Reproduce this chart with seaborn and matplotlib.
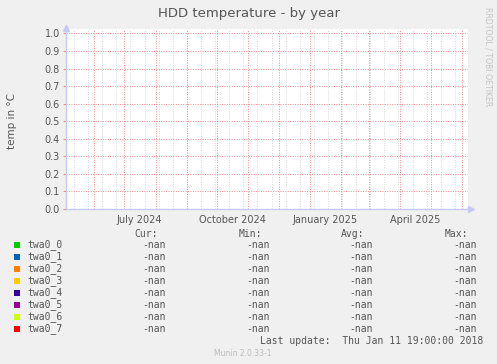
import numpy as np
import pandas as pd
import matplotlib
matplotlib.use('Agg')
import matplotlib.pyplot as plt
import matplotlib.dates as mdates
from matplotlib.patches import Rectangle
import seaborn as sns

# ---- data (every value is -nan) ----
drives = ['twa0_0', 'twa0_1', 'twa0_2', 'twa0_3', 'twa0_4', 'twa0_5', 'twa0_6', 'twa0_7']
colors = ['#00cc00', '#0066b3', '#ff8000', '#ffcc00', '#330099', '#990099', '#ccff00', '#ff0000']
cur_vals = ['-nan'] * 8
min_vals = ['-nan'] * 8
avg_vals = ['-nan'] * 8
max_vals = ['-nan'] * 8
time_range = ['2024-05-04', '2025-06-06 12:00']
temps = [np.nan, np.nan]

label_dates = ['2024-07-16', '2024-10-16', '2025-01-16', '2025-04-16']
label_texts = ['July 2024', 'October 2024', 'January 2025', 'April 2025']
y_ticks = [0.0, 0.1, 0.2, 0.3, 0.4, 0.5, 0.6, 0.7, 0.8, 0.9, 1.0]
last_update = 'Last update:  Thu Jan 11 19:00:00 2018'

# long table for seaborn
rows = []
for d in drives:
    for t, v in zip(time_range, temps):
        rows.append({'date': pd.Timestamp(t), 'temp': v, 'drive': d})
df = pd.DataFrame(rows)

sns.set_style('white')
plt.rcParams['font.family'] = ['DejaVu Sans']

W, H = 497, 364
BG = '#f0f0f0'
TXT = '#555555'
RED = '#f08c8c'
GRAY = '#d6d6d6'
AXC = '#c8c8f4'

def fx(x):
    return x / W

def fy(y):
    return 1 - y / H

fig = plt.figure(figsize=(W / 100, H / 100), dpi=100, facecolor=BG)
ax = fig.add_axes([fx(66), fy(209), 401.5 / W, 180 / H])
ax.set_facecolor('white')

sns.lineplot(data=df, x='date', y='temp', hue='drive', palette=colors,
             legend=False, ax=ax)

t0, t1 = pd.Timestamp(time_range[0]), pd.Timestamp(time_range[1])
ax.xaxis_date()
ax.set_xlim(t0, t1)
ax.set_ylim(0, 1.025)

# minor grey grid every two weeks
for d in pd.date_range('2024-05-12', t1, freq='14D'):
    ax.axvline(d, color=GRAY, lw=0.7, ls=(0, (1, 1.5)), zorder=0.5)

# red month lines with small ticks below the axis
months = pd.date_range('2024-06-01', t1, freq='MS')
ax.set_xticks(months, minor=True)
ax.grid(True, which='minor', axis='x', color=RED, lw=0.7, ls=(0, (1, 1.5)))
ax.tick_params(axis='x', which='minor', length=2.5, color=RED, width=0.8)

ax.set_xticks(pd.to_datetime(label_dates))
ax.set_xticklabels(label_texts)
ax.tick_params(axis='x', which='major', length=0, pad=4, labelsize=7, labelcolor=TXT)
ax.grid(False, which='major', axis='x')

ax.set_yticks(y_ticks)
ax.set_yticklabels([f'{v:.1f}' for v in y_ticks])
ax.tick_params(axis='y', length=2.5, color=RED, width=0.8, pad=2, labelsize=7, labelcolor=TXT)
ax.grid(True, which='major', axis='y', color=RED, lw=0.7, ls=(0, (1, 1.5)))
ax.tick_params(left=True, bottom=True)
ax.tick_params(axis='x', which='major', bottom=False)

ax.set_xlabel('')
ax.set_ylabel('')
for s in ['top', 'right']:
    ax.spines[s].set_visible(False)
for s in ['left', 'bottom']:
    ax.spines[s].set_color(AXC)
    ax.spines[s].set_linewidth(1)
ax.plot([1.0075], [0], marker='>', ms=4, color=AXC, transform=ax.transAxes, clip_on=False)
ax.plot([0], [1.003], marker='^', ms=4, color=AXC, transform=ax.transAxes, clip_on=False)

# titles
fig.text(fx(249), fy(14), 'HDD temperature - by year', ha='center', va='center',
         fontsize=9.5, color=TXT)
fig.text(fx(12), fy(121), 'temp in °C', rotation=90, ha='center', va='center',
         fontsize=7.5, color=TXT)
fig.text(fx(488), fy(57), 'RRDTOOL / TOBI OETIKER', rotation=270, ha='center', va='center',
         fontsize=5.6, color='#c4c4c4')

# legend table
mono = 'DejaVu Sans Mono'
col_right = [166, 270, 373, 477]
head_right = [158, 262, 364, 468]
for h, xr in zip(['Cur:', 'Min:', 'Avg:', 'Max:'], head_right):
    fig.text(fx(xr), fy(234), h, ha='right', va='center', family=mono, fontsize=7, color=TXT)

for i, (name, c) in enumerate(zip(drives, colors)):
    y = 245 + 12 * i
    fig.add_artist(Rectangle((fx(14), fy(y + 3)), 6 / W, 6 / H, facecolor=c,
                             edgecolor='none', transform=fig.transFigure))
    fig.text(fx(27), fy(y), name, ha='left', va='center', family=mono, fontsize=7, color=TXT)
    for vals, xr in zip([cur_vals, min_vals, avg_vals, max_vals], col_right):
        fig.text(fx(xr), fy(y), vals[i], ha='right', va='center', family=mono,
                 fontsize=7, color=TXT)

fig.text(fx(483), fy(341), last_update, ha='right', va='center', family=mono,
         fontsize=7, color=TXT)
fig.text(fx(243), fy(353), 'Munin 2.0.33-1', ha='center', va='center',
         fontsize=5.5, color='#bbbbbb')

fig.savefig('out.png', dpi=100, facecolor=BG)
